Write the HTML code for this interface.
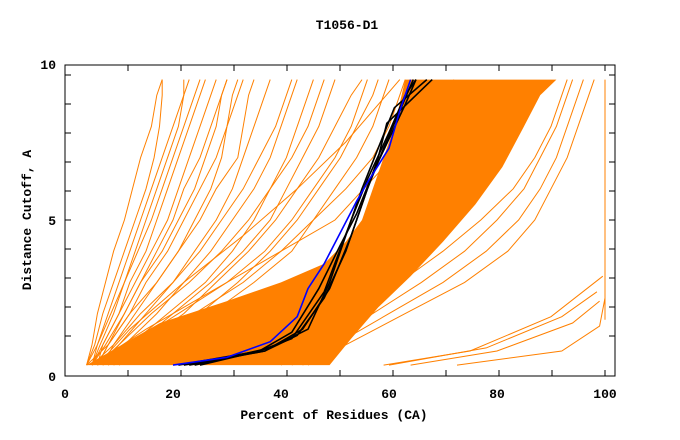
<!DOCTYPE html>
<html><head><meta charset="utf-8"><style>
html,body{margin:0;padding:0;background:#fff;}
svg{display:block;}
text{font-family:"Liberation Mono",monospace;font-size:13px;font-weight:bold;fill:#000;}
</style></head><body>
<svg id="chart" width="680" height="440" viewBox="0 0 680 440">
<rect x="0" y="0" width="680" height="440" fill="#fff"/>
<g id="marks"></g>
<g id="axes"></g>
<text x="347" y="29" text-anchor="middle">T1056-D1</text>
<text x="334" y="419" text-anchor="middle">Percent of Residues (CA)</text>
<text transform="translate(31,220) rotate(-90)" text-anchor="middle">Distance Cutoff, A</text>
</svg>
<script>
const xTickValues = [0, 20, 40, 60, 80, 100];
const xTickLabels = ["0", "20", "40", "60", "80", "100"];
const yTickValues = [0, 5, 10];
const yTickLabels = ["0", "5", "10"];
const levels = [0.35, 1, 2, 3, 4, 5, 6, 7, 8, 9, 9.5];
const fanLines = [
 [4,5,6,7.5,9,11,12.5,14,16,17,18],
 [4,5.5,7,9,11,13,15,16.5,17.5,18,18],
 [5,6,8,10,12,14,16,18,20,22,23],
 [5,6.5,9,11,13.5,16,18,20,22,24,25],
 [5,7,10,12,15,17,19,21,23,25,26],
 [6,7,10,13,16,19,21,23,25,27,28],
 [6,8,11,14,17,20,22,25,27,29,30],
 [6,8,12,15,19,22,25,28,30,31,32],
 [7,9,13,17,21,25,28,32,33,34,35],
 [7,10,15,20,25,29,33,36,39,41,42],
 [7,11,17,22,27,31,35,38,40,42,43],
 [8,13,20,27,33,38,41,44,47,49,50],
 [8,14,22,28,34,39,43,47,50,53,55],
 [9,16,25,32,38,43,47,51,54,57,58],
 [10,18,27,35,42,46,50,54,57,59,60],
 [6,14,24,33,40,46,52,57,60,62,63],
 [5,9,14,20,24,28,31,33,35,37,38],
 [4,8,12,17,21,24,27,29,30,32,33],
 [6,12,19,26,31,35,38,41,43,45,46],
 [5,7.5,11,14,18,21,24,26,28,29,30],
 [6,10,16,23,29,34,38,42,45,47,48],
 [7,12,21,30,37,42,46,50,53,55,56],
 [4,6,8.5,11,13,15,17,19,21,22,22]
];
const sparseLines = [
 [[5,0.35],[20,1.5],[35,2.5],[50,3.5],[58,4.5],[64,6],[68,7.5],[72,9.5]],
 [[5,0.35],[15,1.5],[28,2.8],[40,4],[50,5],[58,6.5],[64,8],[68,9.5]],
 [[6,0.35],[12,1.5],[22,3],[33,4.5],[43,6],[52,7.5],[58,8.7],[62,9.5]],
 [[40,0.35],[46,1],[54,2],[62,3],[70,4],[77,5],[83,6],[87,7],[90,8],[92,9],[93,9.5]],
 [[42,0.35],[48,1],[57,2],[66,3],[74,4],[80,5],[85,6],[88,7],[91,8],[93,9],[94,9.5]],
 [[44,0.35],[50,1],[60,2],[70,3],[78,4],[84,5],[88,6],[91,7],[93,8],[95,9],[96,9.5]],
 [[45,0.35],[52,1],[63,2],[74,3],[82,4],[87,5],[90,6],[93,7],[95,8],[97,9],[98,9.5]],
 [[59,0.35],[75,0.8],[90,1.9],[99.6,3.2]],
 [[60,0.35],[78,0.9],[92,1.9],[98.5,2.7]],
 [[64,0.35],[80,0.8],[94,1.7],[99,2.4]],
 [[72.6,0.35],[92,0.8],[99,1.6],[100,2.5]],
 [[100,1.8],[100,9.5]]
];
const bandLeft = [[4,0.35],[17.6,1.7],[30,2.4],[40,3],[48,3.6],[52,4.3],[55,5],[58,6.5],[61,8],[63,9.5]];
const bandRight = [[49,0.35],[53,1.2],[58,2.2],[64,3.2],[70,4.3],[76,5.5],[81,6.7],[85,8],[88,9],[91,9.5]];
const blackLines = [
 [[21,0.35],[36,0.8],[42,1.4],[47,2.8],[51,4.2],[54,5.2],[57,6.5],[60,7.6],[63,8.7],[65,9.5]],
 [[22,0.35],[37,0.8],[44,1.5],[49,2.8],[53,4.5],[56,6],[59,7.3],[62,8.5],[64.5,9.5]],
 [[23,0.35],[37,0.8],[43,1.3],[48,2.5],[52,4],[55,5.5],[58,7],[59.6,8.1],[62,8.5],[68,9.5]],
 [[24,0.35],[38,0.9],[45,1.5],[49,3],[52,4.5],[55,6],[58,7.3],[61,8.6],[67,9.5]],
 [[25,0.35],[36,0.8],[42,1.2],[48,2.7],[53,5],[56,6.3],[60,7.8],[63,9],[65,9.5]]
];
const blueLine = [[20,0.35],[30,0.6],[38,1.1],[43,1.9],[45,2.8],[48,3.6],[51,4.6],[54,5.6],[56,6.2],[60,7.3],[62,8.5],[64,9.5]];

const X0 = 65, XS = 5.4, Y0 = 376, YS = 31.2;
function xScale(v){ return X0 + v * XS; }
function yScale(v){ return Y0 - v * YS; }
const NS = "http://www.w3.org/2000/svg";
const marks = document.getElementById('marks');
const axes = document.getElementById('axes');
function ptsStr(pairs){ return pairs.map(p => xScale(p[0]).toFixed(1) + ',' + yScale(p[1]).toFixed(1)).join(' '); }

const band = document.createElementNS(NS, 'polygon');
band.setAttribute('points', ptsStr(bandLeft.concat(bandRight.slice().reverse())));
band.setAttribute('fill', '#ff8000');


marks.appendChild(band);

function addLine(pairs, color, w, name){
  const pl = document.createElementNS(NS, 'polyline');
  pl.setAttribute('points', ptsStr(pairs));
  pl.setAttribute('fill', 'none');
  pl.setAttribute('stroke', color);
  pl.setAttribute('stroke-width', w);
  
  
  marks.appendChild(pl);
}
fanLines.forEach(xs => addLine(xs.map((x, i) => [x, levels[i]]), '#ff8000', 1, 'model-line'));
sparseLines.forEach(p => addLine(p, '#ff8000', 1, 'model-line'));
blackLines.forEach(p => addLine(p, '#000', 1.6, 'highlight-line'));
addLine(blueLine, '#0000ff', 1.6, 'best-model-line');

const frame = document.createElementNS(NS, 'rect');
frame.setAttribute('x', 65); frame.setAttribute('y', 65);
frame.setAttribute('width', 550); frame.setAttribute('height', 311);
frame.setAttribute('fill', 'none'); frame.setAttribute('stroke', '#000');


axes.appendChild(frame);

let tickPath = '';
for (let px = 128; px <= 606; px += 53) { tickPath += `M${px},376v-6M${px},65v6`; }
for (let py = 75; py <= 340; py += 29) { tickPath += `M65,${py}h6M615,${py}h-6`; }
const ticks = document.createElementNS(NS, 'path');
ticks.setAttribute('d', tickPath);
ticks.setAttribute('stroke', '#000'); ticks.setAttribute('fill', 'none');


axes.appendChild(ticks);

xTickValues.forEach((v, i) => {
  const t = document.createElementNS(NS, 'text');
  t.setAttribute('x', xScale(v)); t.setAttribute('y', 398);
  t.setAttribute('text-anchor', 'middle');
  t.textContent = xTickLabels[i];
  
  
  axes.appendChild(t);
});
yTickValues.forEach((v, i) => {
  const t = document.createElementNS(NS, 'text');
  t.setAttribute('x', 56); t.setAttribute('y', yScale(v) + 5);
  t.setAttribute('text-anchor', 'end');
  t.textContent = yTickLabels[i];
  
  
  axes.appendChild(t);
});
</script>
</body></html>
